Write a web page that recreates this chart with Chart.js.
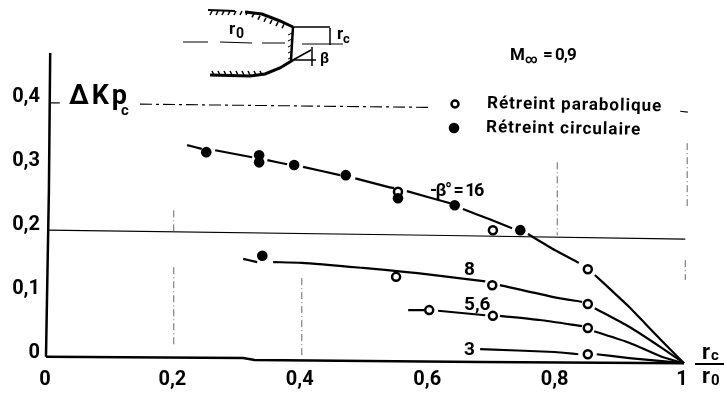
<!DOCTYPE html>
<html>
<head>
<meta charset="utf-8">
<style>
  html, body { margin: 0; padding: 0; background: #fff; }
  canvas { display: block; }
</style>
<script src="https://cdn.jsdelivr.net/npm/chart.js@4"></script>
</head>
<body>
<canvas id="chart" width="724" height="397"></canvas>
<script>
// tick labels
const xTickValues = [0, 0.2, 0.4, 0.6, 0.8, 1];
const xTickLabels = ['0', '0,2', '0,4', '0,6', '0,8', '1'];
const yTickValues = [0, 0.1, 0.2, 0.3, 0.4];
const yTickLabels = ['0', '0,1', '0,2', '0,3', '0,4'];

// hand drawn curves, [r_c/r_0, dKp], null = gap left around a marker
const curve16 = [[.220,.336],[.243,.330],null,[.264,.328],[.322,.317],null,[.346,.3125],[.377,.306],null,
  [.402,.302],[.460,.289],null,[.484,.284],[.538,.270],[.545,.269],null,[.565,.264],[.633,.245],null,
  [.653,.236],[.695,.220],[.730,.206],null,[.755,.197],[.797,.172],[.835,.152],null,
  [.860,.133],[.887,.108],[.914,.083],[.940,.056],[.965,.030],[1,-.005]];
const curve8 = [[.308,.158],[.330,.153],null,[.355,.153],[.400,.152],[.496,.144],[.565,.1375],[.598,.134],[.688,.123],null,
  [.711,.117],[.797,.098],[.840,.091],null,[.860,.081],[.914,.052],[.965,.019],[1,-.005]];
const curve56 = [[.567,.078],[.592,.078],null,[.614,.077],[.688,.070],null,[.711,.069],[.774,.0625],[.840,.053],null,
  [.859,.045],[.914,.027],[.965,.005],[1,-.005]];
const curve3 = [[.680,.017],[.797,.0125],[.834,.009],null,[.863,.009],[.914,.003],[1,-.005]];

// measured points
const circulaire = [[.250,.325],[.333,.320],[.333,.309],[.388,.305],[.469,.289],[.551,.253],[.640,.242],[.743,.203],[.338,.163]];
const parabolique = [[.551,.263],[.700,.203],[.849,.142],[.548,.130],[.699,.117],[.849,.0875],[.600,.078],[.700,.069],[.849,.050],[.849,.009]];

// the scan is a little crooked so axes and grid are not quite square
const axisY = [[.005,.48],[.003,.266],[-.0016,.005]];
const axisX = [[-.0016,.005],[.308,.003],[.326,0],[.680,-.003],[1,-.005]];
const line02 = [[.0016,.203],[.601,.195],[1.002,.189]];
const line04 = [[.146,.400],[.601,.395],null,[.994,.389],[1.006,.3875]];
const tick04 = [[.005,.402],[.020,.402]];
const dashed = [[.199,.234],[.199,.200],null,[.199,.145],[.199,.020],null,[.400,.128],[.400,.003],null,
  [.801,.309],[.801,.195],null,[1.005,.339],[1.005,.239],null,[1.002,.156],[1.002,.125]];

const FONT = 'Roboto, "Liberation Sans", sans-serif';
const toXY = list => list.map(p => p ? { x: p[0], y: p[1] } : { x: null, y: null });

function lineSet(list, width, extra) {
    return Object.assign({
        data: toXY(list),
        showLine: true,
        borderColor: '#000',
        borderWidth: width,
        pointRadius: 0,
        tension: 0.2,
        spanGaps: false,
        clip: false
    }, extra || {});
}

function text(ctx, str, x, y, size, spacing, angle) {
    ctx.save();
    ctx.translate(x, y);
    if (angle) ctx.rotate(angle);
    ctx.font = '700 ' + size + 'px ' + FONT;
    ctx.letterSpacing = (spacing || 0) + 'px';
    ctx.fillStyle = '#000';
    ctx.textAlign = 'left';
    ctx.textBaseline = 'alphabetic';
    ctx.fillText(str, 0, 0);
    ctx.restore();
}

function path(ctx, pts, width) {
    ctx.lineWidth = width;
    ctx.beginPath();
    pts.forEach((p, i) => i ? ctx.lineTo(p[0], p[1]) : ctx.moveTo(p[0], p[1]));
    ctx.stroke();
}

// nozzle sketch, legend and the lettering on the figure
const annotations = {
    id: 'annotations',
    afterDraw(chart) {
        const ctx = chart.ctx;
        ctx.save();
        ctx.strokeStyle = '#000';
        ctx.fillStyle = '#000';

        // walls
        path(ctx, [[208,10],[235,11]], 2);
        path(ctx, [[245,12],[262,14],[280,21],[293,27]], 3);
        path(ctx, [[210,75],[250,76],[265,74],[280,68],[293,60]], 3);
        path(ctx, [[293,27],[291,60]], 2.5);
        for (let x = 212; x < 290; x += 6) {
            const top = x < 250 ? 11 : 12 + (x - 250) * 0.36;
            path(ctx, [[x, top], [x - 2, top + 4]], 1.5);
        }
        for (let x = 214; x < 268; x += 6) path(ctx, [[x, 75], [x - 2, 71]], 1.5);
        for (let y = 33; y < 58; y += 6) path(ctx, [[292, y], [288, y + 2]], 1);
        path(ctx, [[293,27],[330,27]], 1.5);
        path(ctx, [[330,28],[330,45]], 1.5);

        // centre line
        path(ctx, [[183,42],[208,42]], 1);
        path(ctx, [[220,42],[252,43]], 1);
        path(ctx, [[262,43],[285,43]], 1);
        path(ctx, [[302,44],[343,44]], 1);

        // beta
        path(ctx, [[293,60],[311,50]], 1.5);
        path(ctx, [[293,60],[316,60]], 1.5);
        path(ctx, [[312,47],[312,66]], 1.5);

        text(ctx, 'r', 229, 34, 17);
        text(ctx, '0', 236, 38, 14);
        text(ctx, 'r', 337, 39, 17);
        text(ctx, 'c', 343, 43, 13);
        text(ctx, 'β', 320, 63, 15);

        text(ctx, 'ΔKp', 69, 104, 27, 3);
        text(ctx, 'c', 121, 115, 15);

        text(ctx, 'M', 510, 60, 17);
        text(ctx, '∞', 525, 63, 12);
        text(ctx, '= 0,9', 543, 60, 17, -1);

        // legend
        ctx.lineWidth = 2.5;
        ctx.beginPath();
        ctx.arc(455, 104, 3.5, 0, Math.PI * 2);
        ctx.stroke();
        ctx.beginPath();
        ctx.arc(454, 128, 5.3, 0, Math.PI * 2);
        ctx.fill();
        text(ctx, 'Rétreint parabolique', 487, 108, 17, 1, 0.018);
        text(ctx, 'Rétreint circulaire', 486, 132, 17, 1, 0.018);

        text(ctx, '-β° = 16', 430, 196, 18, -1.5);
        text(ctx, '8', 464, 275, 19);
        text(ctx, '5,6', 464, 310, 19);
        text(ctx, '3', 464, 355, 19);

        text(ctx, 'r', 702, 359, 22);
        text(ctx, 'c', 711, 360, 15);
        path(ctx, [[695,364],[724,364]], 2);
        text(ctx, 'r', 702, 383, 22);
        text(ctx, '0', 711, 385, 15);

        ctx.restore();
    }
};

new Chart(document.getElementById('chart').getContext('2d'), {
    type: 'scatter',
    data: {
        datasets: [
            lineSet(dashed, 1, { borderColor: '#666', borderDash: [7, 3, 1, 3], tension: 0 }),
            lineSet(line04, 1.1, { borderDash: [12, 4, 3, 4], tension: 0 }),
            lineSet(line02, 1.1, { tension: 0 }),
            lineSet(tick04, 1.2, { tension: 0 }),
            lineSet(axisY, 2.5, { tension: 0 }),
            lineSet(axisX, 2.5, { tension: 0 }),
            lineSet(curve16, 2.2),
            lineSet(curve8, 2.2),
            lineSet(curve56, 2.2),
            lineSet(curve3, 2.2),
            {
                data: toXY(circulaire),
                pointRadius: 5.3,
                pointBackgroundColor: '#000',
                pointBorderWidth: 0,
                clip: false
            },
            {
                data: toXY(parabolique),
                pointRadius: 4,
                pointBackgroundColor: '#fff',
                pointBorderColor: '#000',
                pointBorderWidth: 2.5,
                clip: false
            }
        ]
    },
    options: {
        responsive: false,
        animation: false,
        layout: { padding: { top: 53, right: 40 } },
        plugins: { legend: { display: false }, tooltip: { enabled: false } },
        scales: {
            x: {
                type: 'linear',
                min: 0,
                max: 1,
                grid: { display: false },
                border: { display: false },
                afterBuildTicks: scale => { scale.ticks = xTickValues.map(v => ({ value: v })); },
                afterFit: scale => { scale.height = 37; },
                ticks: {
                    callback: (v, i) => xTickLabels[i],
                    maxRotation: 0,
                    autoSkip: false,
                    padding: 0,
                    labelOffset: -2,
                    color: '#000',
                    font: { family: FONT, size: 20, weight: '700' }
                }
            },
            y: {
                type: 'linear',
                min: 0,
                max: 0.48,
                grid: { display: false },
                border: { display: false },
                afterBuildTicks: scale => { scale.ticks = yTickValues.map(v => ({ value: v })); },
                afterFit: scale => { scale.width = 47; },
                ticks: {
                    callback: (v, i) => yTickLabels[i],
                    autoSkip: false,
                    padding: -1,
                    labelOffset: -7,
                    color: '#000',
                    font: { family: FONT, size: 20, weight: '700' }
                }
            }
        }
    },
    plugins: [annotations]
});
</script>
</body>
</html>
